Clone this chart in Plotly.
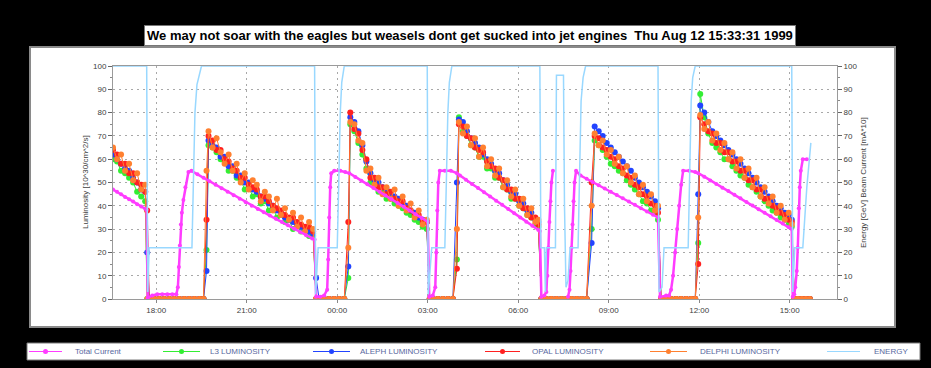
import pandas as pd
import plotly.graph_objects as go

# ---------------- data (minutes after 1999-08-11 16:34) ----------------
lumi_minutes = [
    0, 8, 16, 24, 32, 40, 48, 56, 64,
    68,
    72, 82, 92, 102, 112, 122, 132, 142, 152, 162, 172, 180,
    186,
    190, 198, 206, 214, 222, 230, 238, 246, 254, 262, 270, 278, 286, 294, 302, 310, 318, 326, 334, 342, 350, 358, 366, 374, 382, 390, 398,
    404,
    410, 420, 430, 440, 450, 460,
    468,
    472, 480, 488, 496, 504, 512, 520, 528, 536, 544, 552, 560, 568, 576, 584, 592, 600, 608, 616, 624,
    630,
    636, 646, 656, 666, 676,
    684,
    688, 696, 704, 712, 720, 728, 736, 744, 752, 760, 768, 776, 784, 792, 800, 808, 816, 824, 832, 840, 846,
    852,
    862, 872, 882, 892, 902, 912, 922, 932, 942,
    952,
    958, 966, 974, 982, 990, 998, 1006, 1014, 1022, 1030, 1038, 1046, 1054, 1062, 1070, 1078, 1084,
    1090,
    1100, 1110, 1120, 1130, 1140, 1150, 1158,
    1164,
    1168, 1176, 1184, 1192, 1200, 1208, 1216, 1224, 1232, 1240, 1248, 1256, 1264, 1272, 1280, 1288, 1296, 1304, 1312, 1320, 1328, 1336, 1344, 1350,
    1355,
    1362, 1370, 1378, 1386,
]

l3_lumi = [
    60, 59, 55, 54, 52, 50, 46, 44, 42,
    0,
    0, 0, 0, 0, 0, 0, 0, 0, 0, 0, 0, 0,
    21,
    66, 65, 63, 60, 59, 55, 55, 52, 51, 47, 48, 44, 45, 41, 42, 38, 39, 35, 36, 33, 34, 30, 32, 29, 30, 27, 27,
    0,
    0, 0, 0, 0, 0, 0,
    9,
    75, 72, 67, 62, 56, 50, 49, 46, 46, 43, 43, 41, 40, 39, 37, 36, 34, 33, 31, 30,
    0,
    0, 0, 0, 0, 0,
    17,
    78, 72, 70, 66, 65, 61, 61, 56, 56, 52, 52, 48, 47, 43, 43, 40, 39, 36, 35, 32, 31,
    0,
    0, 0, 0, 0, 0, 0, 0, 0, 0,
    30,
    68, 66, 64, 61, 58, 57, 55, 54, 51, 49, 47, 45, 42, 41, 38, 37, 34,
    0,
    0, 0, 0, 0, 0, 0, 0,
    24,
    88, 78, 71, 67, 65, 63, 60, 60, 57, 55, 53, 52, 49, 48, 46, 44, 42, 40, 38, 37, 35, 34, 32, 31,
    0,
    0, 0, 0, 0,
]

aleph_lumi = [
    62, 60, 58, 56, 55, 52, 50, 47, 46,
    20,
    0, 0, 0, 0, 0, 0, 0, 0, 0, 0, 0, 0,
    12,
    68, 66, 65, 61, 61, 57, 57, 53, 53, 50, 50, 47, 46, 44, 43, 41, 40, 38, 37, 35, 34, 33, 32, 31, 30, 29, 28,
    9,
    0, 0, 0, 0, 0, 0,
    14,
    78, 76, 72, 66, 59, 54, 51, 50, 48, 47, 45, 44, 43, 41, 40, 38, 37, 35, 34, 33,
    0,
    0, 0, 0, 0, 0,
    50,
    77, 76, 72, 69, 67, 65, 62, 60, 58, 55, 54, 51, 49, 46, 45, 42, 41, 38, 37, 34, 33,
    0,
    0, 0, 0, 0, 0, 0, 0, 0, 0,
    24,
    74, 72, 70, 67, 65, 63, 61, 59, 57, 55, 52, 50, 48, 46, 44, 42, 39,
    0,
    0, 0, 0, 0, 0, 0, 0,
    45,
    83, 80, 76, 72, 70, 68, 66, 64, 62, 60, 58, 56, 54, 52, 50, 48, 46, 44, 42, 40, 39, 37, 36, 34,
    0,
    0, 0, 0, 0,
]

opal_lumi = [
    64, 62, 58, 58, 54, 54, 50, 49, 46,
    38,
    0, 0, 0, 0, 0, 0, 0, 0, 0, 0, 0, 0,
    34,
    70, 68, 64, 64, 60, 59, 56, 55, 52, 52, 49, 48, 47, 44, 44, 42, 40, 39, 38, 36, 35, 35, 33, 32, 31, 31, 29,
    0,
    0, 0, 0, 0, 0, 0,
    33,
    80, 73, 71, 64, 60, 52, 52, 48, 48, 45, 46, 43, 42, 42, 39, 38, 36, 36, 33, 33,
    0,
    0, 0, 0, 0, 0,
    13,
    75, 74, 70, 69, 65, 64, 63, 59, 57, 56, 52, 51, 47, 47, 43, 43, 39, 39, 35, 35, 32,
    0,
    0, 0, 0, 0, 0, 0, 0, 0, 0,
    50,
    70, 69, 65, 64, 61, 60, 57, 56, 53, 52, 49, 48, 45, 44, 41, 40, 37,
    0,
    0, 0, 0, 0, 0, 0, 0,
    15,
    78, 75, 72, 71, 67, 67, 63, 63, 59, 59, 55, 55, 51, 51, 47, 47, 43, 43, 40, 39, 37, 36, 34, 33,
    0,
    0, 0, 0, 0,
]

delphi_lumi = [
    65, 60, 62, 55, 58, 51, 54, 47, 49,
    0,
    0, 0, 0, 0, 0, 0, 0, 0, 0, 0, 0, 0,
    55,
    72, 65, 69, 63, 58, 62, 55, 58, 50, 54, 47, 51, 49, 42, 46, 44, 38, 43, 36, 39, 34, 37, 31, 35, 29, 33, 30,
    0,
    0, 0, 0, 0, 0, 0,
    22,
    76, 75, 68, 67, 55, 56, 49, 52, 45, 48, 43, 47, 40, 44, 38, 41, 35, 38, 32, 34,
    0,
    0, 0, 0, 0, 0,
    30,
    76, 71, 74, 66, 69, 61, 65, 57, 60, 53, 56, 48, 51, 44, 47, 40, 43, 36, 39, 33, 34,
    0,
    0, 0, 0, 0, 0, 0, 0, 0, 0,
    40,
    71, 66, 68, 62, 64, 58, 61, 54, 57, 50, 53, 45, 49, 42, 45, 38, 40,
    0,
    0, 0, 0, 0, 0, 0, 0,
    35,
    79, 73, 76, 68, 71, 64, 67, 60, 63, 56, 60, 52, 56, 48, 52, 44, 48, 41, 44, 37, 40, 34, 37, 32,
    0,
    0, 0, 0, 0,
]

current_minutes = [
    0, 8, 16, 24, 32, 40, 48, 56, 64, 67,
    69, 78, 88, 98, 108, 118, 126,
    129, 131, 133, 135, 137, 140, 144, 150, 156,
    168, 180, 192, 204, 216, 228, 240, 252, 264, 276, 288, 300, 312, 324, 336, 348, 360, 372, 384, 396, 401,
    404, 412, 420,
    426, 428, 430, 432, 434, 440, 452, 462,
    470, 482, 494, 506, 518, 530, 542, 554, 566, 578, 590, 602, 614, 626,
    629, 636,
    641, 643, 645, 647, 650, 660, 672, 684,
    690, 702, 714, 726, 738, 750, 762, 774, 786, 798, 810, 822, 834, 846, 849,
    852, 858,
    862, 864, 866, 868, 870, 872, 875,
    890,
    905, 908, 910, 912, 914, 916, 918, 921,
    930, 942, 954, 966, 978, 990, 1002, 1014, 1026, 1038, 1050, 1062, 1074, 1084,
    1088, 1100, 1106,
    1110, 1114, 1118, 1122, 1126, 1130, 1134, 1146, 1158,
    1164, 1176, 1188, 1200, 1212, 1224, 1236, 1248, 1260, 1272, 1284, 1296, 1308, 1320, 1332, 1344, 1350,
    1352, 1355,
    1357, 1360, 1362, 1364, 1366, 1368, 1372, 1380,
]
current_values = [
    47, 46, 45, 43.8, 42.8, 41.8, 40.7, 39.7, 38.7, 38.3,
    0.5, 1.5, 2, 2, 2, 2, 2,
    5, 13.7, 23, 32, 37, 42.5, 48, 54.5, 55,
    53.5, 52, 50.5, 49, 47.5, 46, 44.5, 43, 41.5, 40, 38.6, 37.2, 35.8, 34.4, 33, 31.6, 30.2, 28.8, 27.4, 26, 25.5,
    1, 1, 1.5,
    4, 17, 35, 48, 54, 55, 55, 54.5,
    54, 52.4, 50.8, 49.2, 47.6, 46, 44.4, 42.8, 41.2, 39.6, 38, 36.4, 34.8, 33.2,
    1, 1.5,
    5, 20, 38, 50, 55, 55, 55, 54,
    53, 51.2, 49.4, 47.6, 45.8, 44, 42.2, 40.4, 38.6, 36.8, 35, 33.2, 31.4, 29.6, 29.2,
    1, 1.5,
    3, 10, 22, 33, 42, 50, 55,
    None,
    1, 4, 12, 22, 32, 42, 50, 55,
    53, 51.6, 50.2, 48.8, 47.4, 46, 44.6, 43.2, 41.8, 40.4, 39, 37.6, 36.2, 35,
    1, 1.5, 1.5,
    4, 10, 20, 30, 40, 49, 55, 55, 54.5,
    54, 52.5, 50.9, 49.4, 47.8, 46.3, 44.7, 43.2, 41.6, 40.1, 38.5, 37, 35.5, 33.9, 32.4, 30.8, 30,
    1, 2,
    5, 12, 22, 39, 48, 55, 60, 60,
]

energy_minutes = [
    0, 67, 69, 72, 157, 160, 163, 167, 172, 176,
    401, 403, 408, 446, 449, 452, 455, 460,
    625, 627, 634, 660, 663, 666, 669, 674,
    849, 851, 858, 860, 862, 880, 882, 896, 898, 901, 905, 909, 925, 928, 931, 935, 940,
    1084, 1086, 1092, 1096, 1144, 1147, 1150, 1153, 1158,
    1350, 1352, 1356, 1372, 1380, 1384, 1388,
]
energy_values = [
    100, 100, 3, 22, 22, 50, 80, 92, 97, 100,
    100, 2, 22, 22, 50, 80, 93, 100,
    100, 2, 22, 22, 50, 80, 93, 100,
    100, 22, 22, 3, 22, 22, 96, 96, 40, 5, 8, 22, 22, 55, 85, 95, 100,
    100, 3, 5, 22, 22, 55, 85, 95, 100,
    100, 3, 22, 22, 48, 58, 67,
]

series_names = ["Total Current", "L3 LUMINOSITY", "ALEPH LUMINOSITY",
                "OPAL LUMINOSITY", "DELPHI LUMINOSITY", "ENERGY"]
series_colors = ["#ff3cff", "#33ee33", "#2244ff", "#ff2020", "#ff8030", "#99d8ff"]

title_text = "We may not soar with the eagles but weasels dont get sucked into jet engines&nbsp; Thu Aug 12 15:33:31 1999"
left_title = "Luminosity [10^30/cm^2/s]"
right_title = "Energy [GeV] Beam Current [mA*10]"

for arr in (l3_lumi, aleph_lumi, opal_lumi, delphi_lumi):
    assert len(arr) == len(lumi_minutes), (len(arr), len(lumi_minutes))
assert len(current_values) == len(current_minutes)
assert len(energy_values) == len(energy_minutes)

base = pd.Timestamp("1999-08-11 16:34")


def to_time(mins):
    return [base + pd.Timedelta(minutes=m) for m in mins]


lumi_time = to_time(lumi_minutes)

# ---------------- figure ----------------
fig = go.Figure()
fig.add_trace(go.Scatter(x=to_time(current_minutes), y=current_values, yaxis="y2",
                         mode="lines+markers", name=series_names[0],
                         line=dict(color=series_colors[0], width=2.5),
                         marker=dict(size=4, color=series_colors[0])))
for name, vals, col in zip(series_names[1:5], [l3_lumi, aleph_lumi, opal_lumi, delphi_lumi],
                           series_colors[1:5]):
    fig.add_trace(go.Scatter(x=lumi_time, y=vals, mode="lines+markers", name=name,
                             line=dict(color=col, width=1),
                             marker=dict(size=6, color=col)))
fig.add_trace(go.Scatter(x=to_time(energy_minutes), y=energy_values, yaxis="y2",
                         mode="lines", name=series_names[5],
                         line=dict(color=series_colors[5], width=1.5)))

L, R, T, B = 113, 94, 66, 69
W, H = 931, 368
PW, PH = W - L - R, H - T - B


def px(x):
    return (x - L) / PW


def py(y):
    return (H - B - y) / PH


grid = dict(showgrid=True, gridcolor="#a8a8a8", griddash="2px,4px", gridwidth=1)
tickfont = dict(size=8, color="#404040", family="Liberation Sans, Arial")

fig.update_layout(
    width=W, height=H, margin=dict(l=L, r=R, t=T, b=B),
    paper_bgcolor="black", plot_bgcolor="white", showlegend=False,
    font=dict(family="Liberation Sans, Arial", size=8, color="#404040"),
    xaxis=dict(type="date", range=[base, base + pd.Timedelta(hours=24)],
               tick0="1999-08-11 18:00", dtick=3 * 3600 * 1000, tickformat="%H:%M",
               ticks="outside", ticklen=3, tickcolor="#888", tickfont=tickfont,
               showline=True, linecolor="#9a9a9a", mirror=True, zeroline=False, **grid),
    yaxis=dict(range=[0, 100], dtick=10, ticks="outside", ticklen=4, tickcolor="#666",
               minor=dict(dtick=5, ticks="outside", ticklen=2, tickcolor="#888", showgrid=False),
               tickfont=tickfont, showline=True, linecolor="#9a9a9a", mirror=True,
               zeroline=False, **grid),
    yaxis2=dict(range=[0, 100], dtick=10, overlaying="y", side="right", ticks="outside",
                ticklen=4, tickcolor="#666",
                minor=dict(dtick=5, ticks="outside", ticklen=2, tickcolor="#888", showgrid=False),
                tickfont=tickfont, showline=True, linecolor="#9a9a9a", showgrid=False,
                zeroline=False),
)

shapes = []
annotations = []
# white panel
shapes.append(dict(type="rect", xref="paper", yref="paper", layer="below",
                   x0=px(30), x1=px(895), y0=py(327), y1=py(47),
                   fillcolor="white", line=dict(color="#8a8a8a", width=2)))
# title box
annotations.append(dict(xref="paper", yref="paper", x=px(470), y=py(25),
                        text="<b>" + title_text + "</b>", showarrow=False,
                        font=dict(size=13, color="black", family="Liberation Sans, Arial"),
                        bgcolor="white", bordercolor="#777", borderwidth=1, borderpad=2))
# axis titles
annotations.append(dict(xref="paper", yref="paper", x=px(79), y=0.5, text=left_title,
                        textangle=-90, showarrow=False,
                        font=dict(size=8, color="#404040")))
annotations.append(dict(xref="paper", yref="paper", x=px(870), y=0.5, text=right_title,
                        textangle=-90, showarrow=False,
                        font=dict(size=8, color="#404040")))
# legend box
shapes.append(dict(type="rect", xref="paper", yref="paper",
                   x0=px(27), x1=px(920), y0=py(360), y1=py(343),
                   fillcolor="white", line=dict(color="#7a7a7a", width=1)))
leg_y = py(351.5)
leg_items = [(29, 62, True, 73), (163, 200, True, 208), (313, 350, True, 358),
             (485, 520, True, 530), (650, 687, True, 698), (827, 860, False, 872)]
for (x0, x1, mk, tx), name, col in zip(leg_items, series_names, series_colors):
    shapes.append(dict(type="line", xref="paper", yref="paper", x0=px(x0), x1=px(x1),
                       y0=leg_y, y1=leg_y, line=dict(color=col, width=1)))
    if mk:
        xc = (x0 + x1) / 2
        shapes.append(dict(type="circle", xref="paper", yref="paper",
                           x0=px(xc - 2.5), x1=px(xc + 2.5), y0=py(354), y1=py(349),
                           fillcolor=col, line=dict(color=col, width=0)))
    annotations.append(dict(xref="paper", yref="paper", x=px(tx), y=leg_y, text=name,
                            xanchor="left", yanchor="middle", showarrow=False,
                            font=dict(size=8, color="#5868a0")))

fig.update_layout(shapes=shapes, annotations=annotations)
fig.write_html("out.html", config={"displayModeBar": False},
               post_script="document.body.style.margin='0';document.body.style.background='black';")
